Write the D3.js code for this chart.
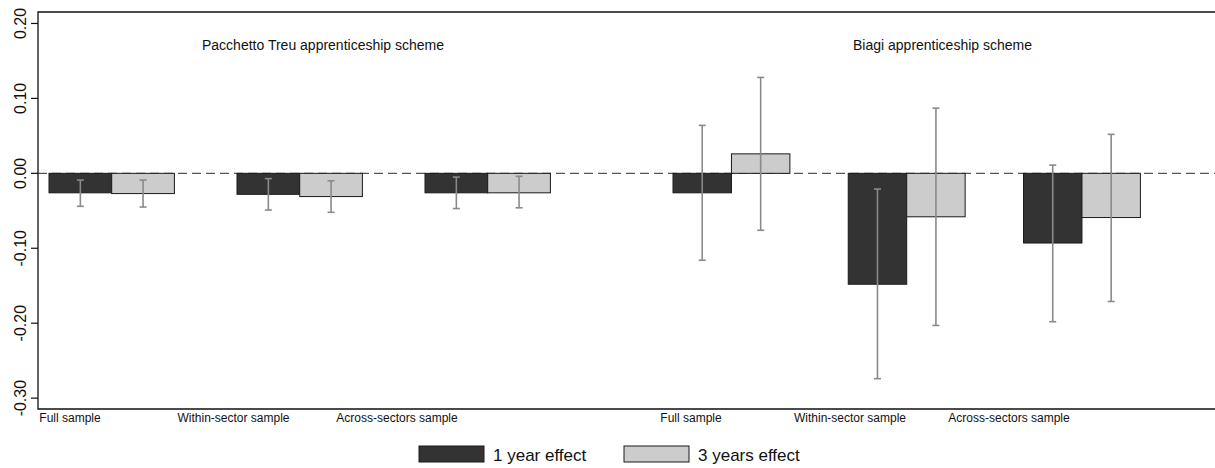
<!DOCTYPE html>
<html>
<head>
<meta charset="utf-8">
<script src="https://cdn.jsdelivr.net/npm/d3@7"></script>
<style>
  body { margin: 0; background: #fff; }
  text { font-family: "Liberation Sans", Arial, Helvetica, sans-serif; fill: #111; }
</style>
</head>
<body>
<div id="chart"></div>
<script>
// data
const samples = ["Full sample", "Within-sector sample", "Across-sectors sample"];
const schemes = ["Pacchetto Treu apprenticeship scheme", "Biagi apprenticeship scheme"];
const series = ["1 year effect", "3 years effect"];

// Pacchetto Treu
const treu1y   = [-0.026, -0.028, -0.026];
const treu1yLo = [-0.044, -0.049, -0.047];
const treu1yHi = [-0.009, -0.007, -0.005];
const treu3y   = [-0.027, -0.031, -0.026];
const treu3yLo = [-0.045, -0.052, -0.046];
const treu3yHi = [-0.009, -0.010, -0.004];

// Biagi
const biagi1y   = [-0.026, -0.148, -0.093];
const biagi1yLo = [-0.116, -0.274, -0.198];
const biagi1yHi = [0.064, -0.021, 0.011];
const biagi3y   = [0.026, -0.058, -0.059];
const biagi3yLo = [-0.076, -0.203, -0.171];
const biagi3yHi = [0.128, 0.087, 0.052];

const yTicks = [0.2, 0.1, 0, -0.1, -0.2, -0.3];
const yTickLabels = ["0.20", "0.10", "0.00", "-0.10", "-0.20", "-0.30"];

const colors = ["#333333", "#cccccc"];

const width = 1215, height = 468;
const frame = {left: 38, right: 1216, top: 12, bottom: 409};

const svg = d3.select("#chart").append("svg")
    .attr("width", width)
    .attr("height", height);

const y = d3.scaleLinear()
    .domain([-0.3145, 0.2153])
    .range([frame.bottom, frame.top]);

// one panel per scheme
const panels = [
  {title: schemes[0], titleX: 202, range: [49, 550.4], labelRange: [70, 397],
   vals: [treu1y, treu3y], lo: [treu1yLo, treu3yLo], hi: [treu1yHi, treu3yHi]},
  {title: schemes[1], titleX: 853, range: [673, 1140.4], labelRange: [691, 1009],
   vals: [biagi1y, biagi3y], lo: [biagi1yLo, biagi3yLo], hi: [biagi1yHi, biagi3yHi]}
];

// zero line
svg.append("line")
    .attr("x1", frame.left).attr("x2", frame.right)
    .attr("y1", y(0)).attr("y2", y(0))
    .attr("stroke", "#555")
    .attr("stroke-width", 1.3)
    .attr("stroke-dasharray", "9,5");

panels.forEach(p => {
    const x0 = d3.scaleBand().domain(samples).range(p.range).paddingInner(0.333).paddingOuter(0);
    const x1 = d3.scaleBand().domain(series).range([0, x0.bandwidth()]);
    const xl = d3.scalePoint().domain(samples).range(p.labelRange);

    const rows = [];
    samples.forEach((s, i) => {
        series.forEach((k, j) => {
            rows.push({sample: s, key: k, j: j, v: p.vals[j][i], lo: p.lo[j][i], hi: p.hi[j][i]});
        });
    });

    const g = svg.append("g");

    g.selectAll("rect")
        .data(rows)
        .enter().append("rect")
        .attr("x", d => x0(d.sample) + x1(d.key))
        .attr("width", x1.bandwidth())
        .attr("y", d => y(Math.max(0, d.v)))
        .attr("height", d => Math.abs(y(d.v) - y(0)))
        .attr("fill", d => colors[d.j])
        .attr("stroke", "#1a1a1a")
        .attr("stroke-width", 1);

    const err = g.selectAll(".err")
        .data(rows)
        .enter().append("g")
        .attr("class", "err")
        .attr("transform", d => "translate(" + (x0(d.sample) + x1(d.key) + x1.bandwidth() / 2) + ",0)")
        .attr("stroke", "#8a8a8a")
        .attr("stroke-width", 1.6);

    err.append("line")
        .attr("y1", d => y(d.lo)).attr("y2", d => y(d.hi));
    err.append("line")
        .attr("x1", -3.5).attr("x2", 3.5)
        .attr("y1", d => y(d.lo)).attr("y2", d => y(d.lo));
    err.append("line")
        .attr("x1", -3.5).attr("x2", 3.5)
        .attr("y1", d => y(d.hi)).attr("y2", d => y(d.hi));

    svg.append("text")
        .attr("x", p.titleX)
        .attr("y", 50)
        .style("font-size", "14px")
        .text(p.title);

    svg.append("g").selectAll("text")
        .data(samples)
        .enter().append("text")
        .attr("x", d => xl(d))
        .attr("y", 422)
        .attr("text-anchor", "middle")
        .style("font-size", "12px")
        .text(d => d);
});

// frame: top, bottom, left
svg.append("path")
    .attr("d", `M${frame.right},${frame.top}H${frame.left}V${frame.bottom}H${frame.right}`)
    .attr("fill", "none")
    .attr("stroke", "#111")
    .attr("stroke-width", 1.3);

// y axis ticks
const yAxis = svg.append("g");
yAxis.selectAll("line")
    .data(yTicks)
    .enter().append("line")
    .attr("x1", frame.left - 7).attr("x2", frame.left)
    .attr("y1", d => y(d)).attr("y2", d => y(d))
    .attr("stroke", "#111")
    .attr("stroke-width", 1.2);
yAxis.selectAll("text")
    .data(yTicks)
    .enter().append("text")
    .attr("transform", d => "translate(26," + y(d) + ") rotate(-90)")
    .attr("text-anchor", "middle")
    .style("font-size", "16px")
    .text((d, i) => yTickLabels[i]);

// legend
const legend = svg.append("g").attr("transform", "translate(419,446)");
const item = legend.selectAll("g")
    .data(series)
    .enter().append("g")
    .attr("transform", (d, i) => "translate(" + (i * 205) + ",0)");
item.append("rect")
    .attr("width", 65).attr("height", 16)
    .attr("fill", (d, i) => colors[i])
    .attr("stroke", "#1a1a1a")
    .attr("stroke-width", 1);
item.append("text")
    .attr("x", 74)
    .attr("y", 15)
    .style("font-size", "17px")
    .text(d => d);
</script>
</body>
</html>
